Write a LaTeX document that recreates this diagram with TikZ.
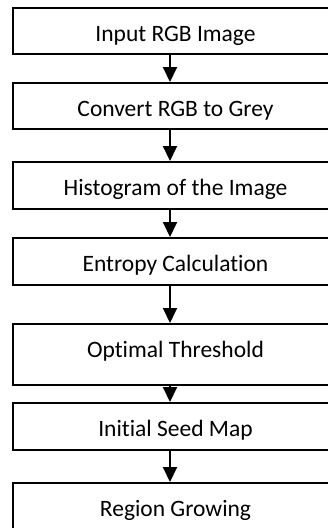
\documentclass[tikz,border=0pt]{standalone}
\usepackage{fontspec}
\setmainfont[Ligatures=NoCommon]{Carlito}
\usetikzlibrary{arrows.meta,positioning}

\begin{document}
\begin{tikzpicture}[x=1pt, y=-1pt,
  stage/.style={rectangle, draw, line width=2pt, minimum width=325pt,
    text height=33.5pt, text depth=13.5pt, inner sep=0pt,
    font=\fontsize{23.5}{26}\selectfont},
  short/.style={text depth=12.5pt},
  tall/.style={text depth=27.5pt},
  flow/.style={line width=2pt, -{Triangle[width=14pt,length=15pt]}}
]
\useasboundingbox (0,0) rectangle (327,528);
% Steps of the method, top to bottom
\node[stage, short] (inp)  at (175.5,30.5)  {Input RGB Image};
\node[stage, short] (grey) at (175.5,106)   {Convert RGB to Grey};
\node[stage] (hist) at (175.5,185.5) {Histogram of the Image};
\node[stage] (entr) at (175.5,261.5) {Entropy Calculation};
\node[stage, tall] (thr)  at (175.5,354.5) {Optimal Threshold};
\node[stage] (seed) at (175.5,426.5) {Initial Seed Map};
\node[stage] (grow) at (175.5,506.5) {Region Growing};
% Arrows between the steps
\foreach \a/\b in {inp/grey, grey/hist, hist/entr, entr/thr, thr/seed, seed/grow}
  \draw[flow] ([xshift=-5.5pt]\a.south) -- ([xshift=-5.5pt]\b.north);
\end{tikzpicture}
\end{document}
